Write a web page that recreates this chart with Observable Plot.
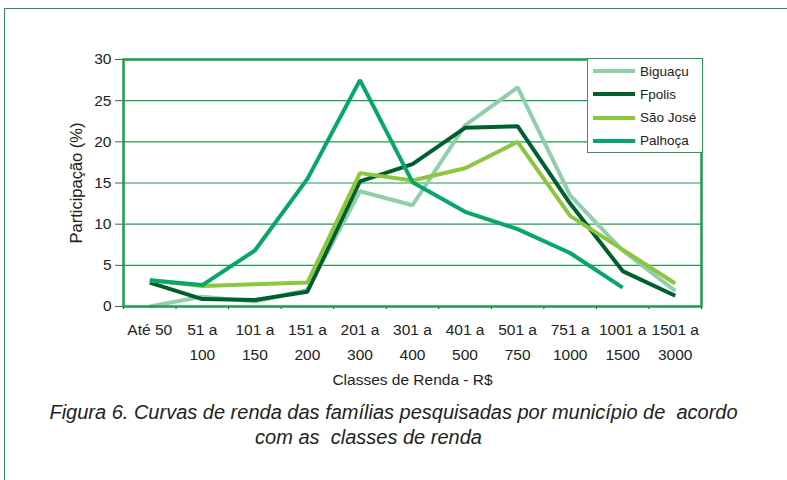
<!DOCTYPE html>
<html>
<head>
<meta charset="utf-8">
<script src="https://cdn.jsdelivr.net/npm/d3@7"></script>
<script src="https://cdn.jsdelivr.net/npm/@observablehq/plot@0.6"></script>
<style>
  html, body { margin: 0; padding: 0; background: #fff; overflow: hidden; width: 787px; height: 480px; }
  #outer { position: absolute; left: 4px; top: 8px; width: 800px; height: 500px; border: 1.5px solid #2f8a55; box-sizing: border-box; }
  #chart { position: absolute; left: 0; top: 0; }
  .legend { position: absolute; left: 587px; top: 58px; width: 116px; height: 95px; background: #fff; border: 1.5px solid #2a9a55; box-sizing: border-box; font: 13.5px "Liberation Sans", Arial, sans-serif; color: #222; }
  .legend .item { position: absolute; left: 5px; height: 16px; display: flex; align-items: center; }
  .legend .sw { width: 42px; height: 4px; margin-right: 5px; }
  .cap { position: absolute; left: 0; width: 787px; text-align: center; font: italic 20px "Liberation Sans", Arial, sans-serif; color: #222; white-space: pre; }
</style>
</head>
<body>
<div id="outer"></div>
<div id="chart"></div>
<div id="legend" class="legend"></div>
<div class="cap" id="cap1" style="top:401px;"></div>
<div class="cap" id="cap2" style="top:426px; padding-right:50px; width:737px;"></div>
<script>
const categories = ["Até 50", "51 a\n100", "101 a\n150", "151 a\n200", "201 a\n300", "301 a\n400", "401 a\n500", "501 a\n750", "751 a\n1000", "1001 a\n1500", "1501 a\n3000"];
const seriesNames = ["Biguaçu", "Fpolis", "São José", "Palhoça"];
const seriesColors = ["#8fcfa9", "#005f30", "#8cc63f", "#07a66a"];
const biguacu = [0, 1.2, 0.6, 2.0, 14.0, 12.3, 22.0, 26.6, 13.5, 6.8, 1.9];
const fpolis = [2.9, 0.9, 0.8, 1.8, 15.2, 17.3, 21.7, 21.9, 12.5, 4.3, 1.3];
const saoJose = [3.2, 2.5, 2.7, 2.9, 16.2, 15.3, 16.8, 20.0, 11.0, 6.9, 2.8];
const palhoca = [3.2, 2.6, 6.8, 15.5, 27.5, 15.1, 11.5, 9.4, 6.5, 2.3, null];
const yTicks = [0, 5, 10, 15, 20, 25, 30];
const yLabel = "Participação (%)";
const xLabel = "Classes de Renda - R$";
const caption1 = "Figura 6. Curvas de renda das famílias pesquisadas por município de  acordo";
const caption2 = "com as  classes de renda";

const allSeries = [biguacu, fpolis, saoJose, palhoca];
const data = [];
allSeries.forEach((vals, s) => vals.forEach((v, i) => {
  if (v !== null) data.push({series: seriesNames[s], i, value: v});
}));
const idx = categories.map((_, i) => i);
const bounds = d3.range(categories.length + 1).map(i => i - 0.5);
const green = "#1d9b4e";

const chart = Plot.plot({
  width: 787,
  height: 400,
  marginLeft: 123,
  marginRight: 86,
  marginTop: 59,
  marginBottom: 94,
  style: {fontFamily: "'Liberation Sans', Arial, sans-serif", fontSize: "15px", color: "#222", background: "transparent"},
  x: {type: "linear", domain: [-0.5, categories.length - 0.5], axis: null},
  y: {domain: [0, 30], axis: null},
  color: {domain: seriesNames, range: seriesColors},
  marks: [
    Plot.gridY(yTicks.filter(t => t > 0 && t < 30), {stroke: green, strokeOpacity: 1, strokeWidth: 1.2}),
    Plot.axisY(yTicks, {tickSize: 8, tickPadding: 4, stroke: "#555", strokeWidth: 1, fill: "#222", label: null, fontSize: 15.5}),
    Plot.axisX(bounds, {tickSize: 3, tickFormat: () => "", stroke: "#222", label: null}),
    Plot.axisX(idx, {tickSize: 0, tickPadding: 11, tickFormat: i => categories[i], lineHeight: 1.6, fill: "#222", label: null, fontSize: 15.5}),
    Plot.line(data, {x: "i", y: "value", z: "series", stroke: "series", strokeWidth: 4, strokeLinejoin: "miter", strokeLinecap: "butt"}),
    Plot.frame({stroke: green, strokeWidth: 2.5}),
    Plot.text([yLabel], {frameAnchor: "left", textAnchor: "middle", rotate: -90, dx: -47, fill: "#222", fontSize: 16.5}),
    Plot.text([xLabel], {frameAnchor: "bottom", dy: 78, fill: "#222", fontSize: 15.5})
  ]
});
document.getElementById("chart").appendChild(chart);

const leg = document.getElementById("legend");
seriesNames.forEach((n, k) => {
  const it = document.createElement("div");
  it.className = "item";
  it.style.top = (4 + k * 23.3) + "px";
  it.innerHTML = `<span class="sw" style="background:${seriesColors[k]}"></span><span>${n}</span>`;
  leg.appendChild(it);
});
document.getElementById("cap1").textContent = caption1;
document.getElementById("cap2").textContent = caption2;
</script>
</body>
</html>
